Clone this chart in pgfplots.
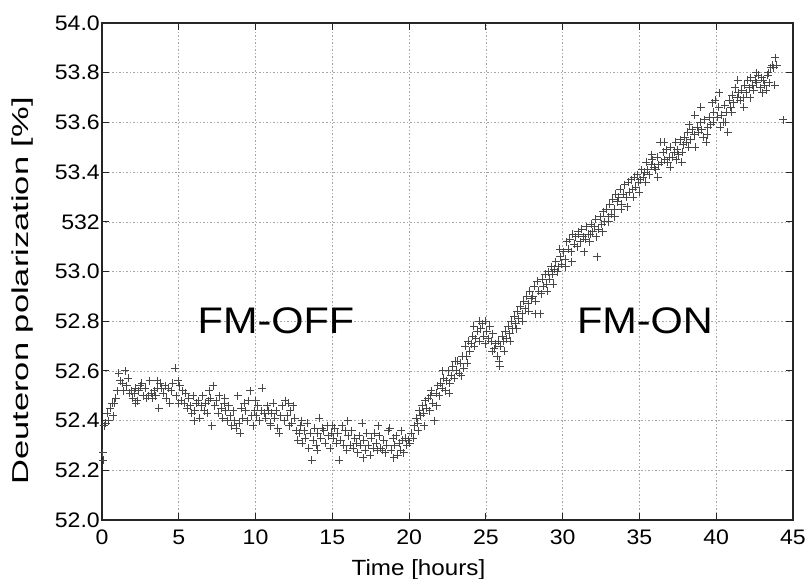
\documentclass[border=0pt]{standalone}
\usepackage{fontspec}
\setmainfont{Liberation Sans}[FakeStretch=1.1]
\newfontfamily\ylabfont{Liberation Sans}[FakeStretch=1.5]
\newfontfamily\fmfont{Liberation Sans}[FakeStretch=1.12]
\usepackage{pgfplots}
\pgfplotsset{compat=1.18}
\begin{document}
\begin{tikzpicture}
\path[use as bounding box] (-102pt,-59pt) rectangle (705pt,520pt);
\begin{axis}[
  at={(0,0)}, anchor=south west,
  scale only axis, width=691pt, height=497pt,
  xmin=0, xmax=45, ymin=52, ymax=54,
  xtick={0,5,10,15,20,25,30,35,40,45},
  xticklabels={0,5,10,15,20,25,30,35,40,45},
  ytick={52,52.2,52.4,52.6,52.8,53,53.2,53.4,53.6,53.8,54},
  yticklabels={52.0,52.2,52.4,52.6,52.8,53.0,532,53.4,53.6,53.8,54.0},
  /pgf/number format/assume math mode=true,
  xticklabel style={font=\fontsize{21}{21}\selectfont, inner sep=0pt, anchor=north, yshift=-10pt},
  yticklabel style={font=\fontsize{21}{21}\selectfont, inner sep=0pt, anchor=east, xshift=-2pt},
  tick align=inside,
  major tick length=7pt,
  tick style={black!85, line width=1pt},
  axis line style={black!85, line width=1.3pt},
  grid=major,
  major grid style={gray!70, line width=0.6pt, dash pattern=on 1.5pt off 2pt},
  xlabel={Time [hours]},
  ylabel={Deuteron polarization [\%]},
  every axis x label/.style={at={(axis description cs:0.458,0)}, anchor=base, yshift=-55pt, font=\fontsize{22}{22}\selectfont},
  every axis y label/.style={at={(axis description cs:-0.094,0.461)}, rotate=90, anchor=south, font=\ylabfont\fontsize{23}{23}\selectfont},
  clip=false,
]
\addplot[only marks, mark=+, mark size=4pt, mark options={line width=0.85pt, draw=black!72}] coordinates {
(0.05,52.27)(0.08,52.24)(0.15,52.38)(0.25,52.39)(0.35,52.43)(0.45,52.40)(0.55,52.45)(0.65,52.47)(0.72,52.42)(0.80,52.47)
(0.90,52.49)(1.00,52.52)(1.10,52.59)(1.20,52.56)(1.30,52.55)(1.40,52.52)(1.50,52.60)(1.60,52.54)(1.70,52.57)(1.80,52.51)
(1.90,52.52)(2.00,52.49)(2.10,52.51)(2.20,52.53)(2.30,52.48)(2.40,52.52)(2.50,52.54)(2.60,52.55)(2.70,52.50)(2.80,52.53)
(2.90,52.49)(3.00,52.50)(3.10,52.56)(3.20,52.51)(3.30,52.49)(3.40,52.52)(3.50,52.50)(3.60,52.53)(3.70,52.45)(3.80,52.55)
(3.90,52.53)(4.00,52.51)(4.10,52.54)(4.20,52.49)(4.30,52.53)(4.40,52.47)(4.50,52.52)(4.60,52.55)(4.75,52.61)(4.85,52.50)
(4.95,52.56)(5.05,52.54)(5.15,52.48)(5.25,52.52)(5.35,52.47)(5.45,52.51)(5.55,52.45)(5.65,52.49)(5.75,52.46)(5.85,52.43)
(5.95,52.50)(6.05,52.44)(6.15,52.47)(6.25,52.48)(6.35,52.41)(6.45,52.46)(6.55,52.50)(6.65,52.44)(6.75,52.47)(6.85,52.43)
(6.95,52.48)(7.05,52.49)(7.15,52.38)(7.25,52.54)(7.35,52.46)(7.45,52.48)(7.55,52.43)(7.65,52.50)(7.75,52.45)(7.85,52.41)
(7.95,52.47)(8.05,52.44)(8.15,52.40)(8.25,52.46)(8.35,52.42)(8.45,52.38)(8.55,52.44)(8.65,52.40)(8.75,52.37)(8.85,52.50)
(8.95,52.39)(9.05,52.45)(9.15,52.41)(9.25,52.47)(9.35,52.44)(9.45,52.40)(9.55,52.48)(9.65,52.52)(9.75,52.42)(9.85,52.38)
(9.95,52.44)(10.05,52.42)(10.15,52.46)(10.25,52.40)(10.35,52.44)(10.45,52.53)(10.55,52.43)(10.65,52.41)(10.75,52.46)(10.85,52.44)
(10.95,52.39)(11.05,52.43)(11.15,52.47)(11.25,52.41)(11.35,52.44)(11.45,52.37)(11.55,52.35)(11.65,52.42)(11.75,52.46)(11.85,52.40)
(11.95,52.48)(12.05,52.42)(12.15,52.47)(12.25,52.44)(12.35,52.39)(12.45,52.46)(12.55,52.41)(12.65,52.36)(12.75,52.32)(12.85,52.35)
(12.95,52.38)(13.05,52.31)(13.15,52.36)(13.25,52.33)(13.35,52.39)(13.45,52.29)(13.55,52.35)(13.65,52.24)(13.75,52.32)(13.85,52.37)
(13.95,52.30)(14.05,52.35)(14.15,52.41)(14.25,52.33)(14.35,52.37)(14.45,52.36)(14.55,52.31)(14.65,52.38)(14.75,52.34)(14.85,52.29)
(14.95,52.35)(15.05,52.33)(15.15,52.37)(15.25,52.31)(15.35,52.35)(15.45,52.24)(15.55,52.32)(15.65,52.38)(15.75,52.30)(15.85,52.36)
(15.95,52.28)(16.05,52.34)(16.15,52.30)(16.25,52.36)(16.35,52.29)(16.45,52.33)(16.55,52.31)(16.65,52.27)(16.75,52.34)(16.85,52.30)
(16.95,52.39)(17.05,52.32)(17.15,52.28)(17.25,52.35)(17.35,52.30)(17.45,52.26)(17.55,52.33)(17.65,52.29)(17.75,52.35)(17.85,52.31)
(17.95,52.28)(18.05,52.34)(18.15,52.29)(18.25,52.28)(18.35,52.32)(18.45,52.27)(18.55,52.30)(18.65,52.36)(18.75,52.37)(18.85,52.28)
(18.95,52.33)(19.05,52.30)(19.15,52.34)(19.25,52.26)(19.35,52.31)(19.45,52.28)(19.55,52.32)(19.65,52.27)(19.75,52.33)(19.85,52.30)
(19.95,52.32)(20.05,52.31)(20.15,52.35)(20.25,52.33)(20.35,52.38)(20.45,52.41)(20.55,52.39)(20.65,52.44)(20.75,52.42)(20.85,52.46)
(20.95,52.43)(21.05,52.48)(21.15,52.45)(21.25,52.49)(21.35,52.44)(21.45,52.52)(21.55,52.47)(21.65,52.40)(21.75,52.51)(21.85,52.54)
(21.95,52.50)(22.05,52.55)(22.15,52.53)(22.25,52.57)(22.35,52.52)(22.45,52.56)(22.55,52.60)(22.65,52.55)(22.75,52.58)(22.85,52.62)
(22.95,52.57)(23.05,52.60)(23.15,52.64)(23.25,52.59)(23.35,52.63)(23.45,52.66)(23.55,52.61)(23.65,52.70)(23.75,52.66)(23.85,52.72)
(23.95,52.68)(24.05,52.71)(24.15,52.74)(24.25,52.70)(24.35,52.73)(24.45,52.76)(24.55,52.80)(24.65,52.77)(24.75,52.79)(24.85,52.74)
(24.95,52.71)(25.05,52.76)(25.15,52.73)(25.25,52.78)(25.35,52.72)(25.45,52.75)(25.55,52.69)(25.65,52.71)(25.75,52.66)(25.85,52.64)
(25.95,52.70)(26.05,52.74)(26.15,52.72)(26.25,52.76)(26.35,52.73)(26.45,52.78)(26.55,52.75)(26.65,52.80)(26.75,52.77)(26.85,52.82)
(26.95,52.79)(27.05,52.84)(27.15,52.81)(27.25,52.86)(27.35,52.83)(27.45,52.88)(27.55,52.85)(27.65,52.90)(27.75,52.87)(27.85,52.92)
(27.95,52.89)(28.05,52.90)(28.15,52.94)(28.25,52.88)(28.35,52.96)(28.45,52.92)(28.55,52.83)(28.65,52.97)(28.75,52.94)(28.85,52.99)
(28.95,52.95)(29.05,53.00)(29.15,52.97)(29.25,53.02)(29.35,52.99)(29.45,53.01)(29.55,53.04)(29.65,53.00)(29.75,53.02)(29.85,53.06)
(29.95,53.03)(30.05,53.08)(30.15,53.05)(30.25,53.12)(30.35,53.09)(30.45,53.13)(30.55,53.08)(30.65,53.15)(30.75,53.11)(30.85,53.14)
(30.95,53.10)(31.05,53.15)(31.15,53.12)(31.25,53.17)(31.35,53.14)(31.45,53.13)(31.55,53.18)(31.65,53.15)(31.75,53.12)(31.85,53.19)
(31.95,53.16)(32.05,53.18)(32.15,53.21)(32.25,53.06)(32.35,53.17)(32.45,53.22)(32.55,53.19)(32.65,53.24)(32.75,53.20)(32.85,53.25)
(32.95,53.22)(33.05,53.27)(33.15,53.23)(33.25,53.29)(33.35,53.25)(33.45,53.31)(33.55,53.28)(33.65,53.30)(33.75,53.33)(33.85,53.27)
(33.95,53.31)(34.05,53.35)(34.15,53.30)(34.25,53.36)(34.35,53.32)(34.45,53.37)(34.55,53.33)(34.65,53.38)(34.75,53.34)(34.85,53.39)
(34.95,53.36)(35.05,53.37)(35.15,53.41)(35.25,53.38)(35.35,53.40)(35.45,53.44)(35.55,53.41)(35.65,53.39)(35.75,53.43)(35.85,53.45)
(35.95,53.42)(36.05,53.41)(36.15,53.46)(36.25,53.43)(36.35,53.52)(36.45,53.44)(36.55,53.48)(36.65,53.45)(36.75,53.49)(36.85,53.44)
(36.95,53.46)(37.05,53.50)(37.15,53.46)(37.25,53.48)(37.35,53.52)(37.45,53.49)(37.55,53.47)(37.65,53.53)(37.75,53.44)(37.85,53.51)
(37.95,53.54)(38.05,53.52)(38.15,53.56)(38.25,53.59)(38.35,53.53)(38.45,53.57)(38.55,53.55)(38.65,53.50)(38.75,53.58)(38.85,53.56)
(38.95,53.60)(39.05,53.57)(39.15,53.54)(39.25,53.61)(39.35,53.52)(39.45,53.58)(39.55,53.62)(39.65,53.59)(39.75,53.68)(39.85,53.64)
(39.95,53.69)(40.05,53.62)(40.15,53.66)(40.25,53.58)(40.35,53.63)(40.45,53.60)(40.55,53.67)(40.65,53.64)(40.75,53.56)(40.85,53.69)
(40.95,53.66)(41.05,53.71)(41.15,53.68)(41.25,53.74)(41.35,53.70)(41.45,53.72)(41.55,53.69)(41.65,53.73)(41.75,53.70)(41.85,53.75)
(41.95,53.72)(42.05,53.77)(42.15,53.74)(42.25,53.78)(42.35,53.75)(42.45,53.73)(42.55,53.77)(42.65,53.76)(42.75,53.79)(42.85,53.74)
(42.95,53.78)(43.05,53.77)(43.15,53.75)(43.25,53.73)(43.35,53.79)(43.45,53.76)(43.55,53.82)(43.65,53.83)(43.75,53.82)(43.85,53.86)
(43.95,53.83)(44.35,53.61)
(2.2,52.47)(3.6,52.56)(5.0,52.47)(6.0,52.40)(7.0,52.52)(8.0,52.49)(9.0,52.35)(10.0,52.48)(11.0,52.38)(12.2,52.38)
(13.0,52.40)(14.0,52.28)(15.0,52.38)(16.0,52.40)(17.0,52.25)(18.0,52.38)(19.0,52.25)(19.5,52.36)
(20.6,52.36)(21.0,52.38)(21.4,52.50)(21.8,52.46)(22.2,52.60)(22.6,52.51)(23.0,52.64)(23.4,52.58)(23.8,52.63)(24.2,52.78)
(24.6,52.72)(25.0,52.80)(25.4,52.68)(25.8,52.72)(25.9,52.62)(26.2,52.68)(26.6,52.72)(27.0,52.77)(27.4,52.80)(27.8,52.84)
(28.2,52.83)(28.6,52.91)(29.0,52.92)(29.4,52.95)(29.8,53.09)(30.2,53.02)(30.6,53.04)(31.0,53.16)(31.4,53.08)(31.8,53.15)
(32.2,53.14)(32.6,53.16)(33.0,53.20)(33.4,53.22)(33.8,53.25)(34.2,53.26)(34.6,53.30)(35.0,53.32)(35.4,53.36)(35.8,53.47)
(36.2,53.38)(36.6,53.52)(37.0,53.42)(37.4,53.45)(37.8,53.48)(38.2,53.50)(38.6,53.63)(39.0,53.66)(39.4,53.55)(39.8,53.60)
(40.2,53.72)(40.6,53.60)(41.0,53.64)(41.4,53.77)(41.8,53.66)(42.2,53.70)(42.6,53.80)(43.0,53.72)(43.4,53.80)(43.8,53.75)
};
\node[font=\fmfont\fontsize{37}{37}\selectfont, anchor=base, inner sep=0pt] at (axis cs:11.33,52.752) {FM-OFF};
\node[font=\fmfont\fontsize{37}{37}\selectfont, anchor=base, inner sep=0pt] at (axis cs:35.36,52.752) {FM-ON};
\end{axis}
\end{tikzpicture}
\end{document}
